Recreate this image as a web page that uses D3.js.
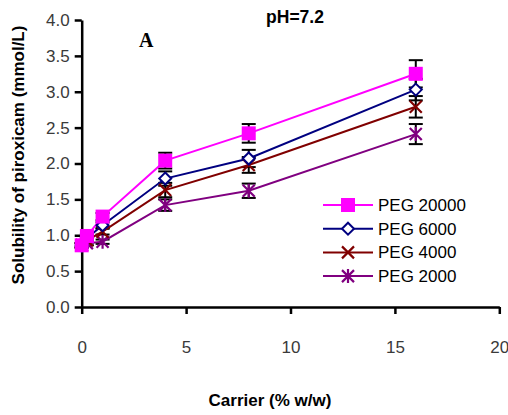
<!DOCTYPE html>
<html>
<head>
<meta charset="utf-8">
<script src="https://cdn.jsdelivr.net/npm/d3@7"></script>
<style>
  body { margin: 0; background: #fff; }
  svg { display: block; }
  .tick text { font-family: "Liberation Sans Narrow", "Arial Narrow", Arial, sans-serif; font-size: 17px; fill: #3a3a3a; }
</style>
</head>
<body>
<svg id="chart"></svg>
<script>
const carrier = [0, 0.25, 1, 4, 8, 16];
const seriesNames = ["PEG 20000", "PEG 6000", "PEG 4000", "PEG 2000"];
const peg20000 = [0.86, 0.99, 1.26, 2.04, 2.42, 3.25];
const peg6000 = [0.86, 0.96, 1.14, 1.79, 2.07, 3.03];
const peg4000 = [0.86, 0.93, 1.05, 1.63, 1.98, 2.79];
const peg2000 = [0.86, 0.89, 0.91, 1.42, 1.62, 2.41];
const err20000 = [0.03, 0.03, 0.05, 0.11, 0.13, 0.19];
const err6000 = [0.03, 0.03, 0.04, 0.10, 0.12, 0.15];
const err4000 = [0.03, 0.03, 0.04, 0.10, 0.11, 0.15];
const err2000 = [0.03, 0.03, 0.03, 0.08, 0.10, 0.14];
const xTicks = [0, 5, 10, 15, 20];
const yTicks = [0, 0.5, 1, 1.5, 2, 2.5, 3, 3.5, 4];

const W = 508, H = 415;
const svg = d3.select("#chart").attr("width", W).attr("height", H);

const x = d3.scaleLinear().domain([0, 20]).range([81.7, 499.3]);
const y = d3.scaleLinear().domain([0, 4]).range([307, 20]);

const series = [
  { name: seriesNames[0], vals: peg20000, err: err20000, color: "#ff00ff", shape: "square" },
  { name: seriesNames[1], vals: peg6000, err: err6000, color: "#000080", shape: "diamond" },
  { name: seriesNames[2], vals: peg4000, err: err4000, color: "#800000", shape: "x" },
  { name: seriesNames[3], vals: peg2000, err: err2000, color: "#800080", shape: "star" }
];

// ---------- axes
const xAxis = svg.append("g")
  .attr("transform", `translate(0,${y(0)})`)
  .call(d3.axisBottom(x).tickValues(xTicks).tickFormat(d3.format("d")).tickSize(7).tickSizeOuter(0).tickPadding(27));
const yAxis = svg.append("g")
  .attr("transform", `translate(${x(0)},0)`)
  .call(d3.axisLeft(y).tickValues(yTicks).tickFormat(d3.format(".1f")).tickSize(7).tickSizeOuter(0).tickPadding(5));
[xAxis, yAxis].forEach(a => {
  a.select(".domain").attr("stroke", "#000").attr("stroke-width", 2.5);
  a.selectAll(".tick line").attr("stroke", "#000").attr("stroke-width", 2.5);
});

// ---------- markers
function drawMarker(g, shape, color, cx, cy) {
  if (shape === "square") {
    g.append("rect").attr("x", cx - 7).attr("y", cy - 7).attr("width", 14).attr("height", 14).attr("fill", color);
  } else if (shape === "diamond") {
    g.append("path").attr("d", `M${cx},${cy - 6}L${cx + 6},${cy}L${cx},${cy + 6}L${cx - 6},${cy}Z`)
      .attr("fill", "#fff").attr("stroke", color).attr("stroke-width", 2);
  } else if (shape === "x") {
    g.append("path").attr("d", `M${cx - 6},${cy - 6}L${cx + 6},${cy + 6}M${cx - 6},${cy + 6}L${cx + 6},${cy - 6}`)
      .attr("stroke", color).attr("stroke-width", 2.2);
  } else {
    g.append("path").attr("d", `M${cx - 6},${cy - 6}L${cx + 6},${cy + 6}M${cx - 6},${cy + 6}L${cx + 6},${cy - 6}M${cx},${cy - 7}L${cx},${cy + 7}`)
      .attr("stroke", color).attr("stroke-width", 2.2);
  }
}

const line = d3.line().x(d => x(d[0])).y(d => y(d[1]));

// error bars
const eb = svg.append("g").attr("stroke", "#000").attr("stroke-width", 2);
series.forEach(s => {
  carrier.forEach((c, i) => {
    const cx = x(c), hi = y(s.vals[i] + s.err[i]), lo = y(s.vals[i] - s.err[i]);
    eb.append("line").attr("x1", cx).attr("x2", cx).attr("y1", hi).attr("y2", lo);
    eb.append("line").attr("x1", cx - 7).attr("x2", cx + 7).attr("y1", hi).attr("y2", hi);
    eb.append("line").attr("x1", cx - 7).attr("x2", cx + 7).attr("y1", lo).attr("y2", lo);
  });
});

series.slice().reverse().forEach(s => {
  svg.append("path")
    .datum(carrier.map((c, i) => [c, s.vals[i]]))
    .attr("d", line).attr("fill", "none").attr("stroke", s.color).attr("stroke-width", 2);
});
series.slice().reverse().forEach(s => {
  const g = svg.append("g");
  carrier.forEach((c, i) => drawMarker(g, s.shape, s.color, x(c), y(s.vals[i])));
});

// ---------- legend
const leg = svg.append("g").attr("transform", "translate(323,205)");
series.forEach((s, i) => {
  const row = leg.append("g").attr("transform", `translate(0,${i * 23.7})`);
  row.append("line").attr("x1", 0).attr("x2", 50).attr("stroke", s.color).attr("stroke-width", 2);
  drawMarker(row, s.shape, s.color, 25, 0);
  row.append("text").attr("x", 55).attr("y", 6)
    .attr("font-family", "Liberation Sans, Arial, sans-serif").attr("font-size", 17)
    .attr("fill", "#000").text(s.name);
});

// ---------- titles
svg.append("text").attr("x", 270).attr("y", 406).attr("text-anchor", "middle")
  .attr("font-family", "Liberation Sans, Arial, sans-serif").attr("font-weight", "bold").attr("font-size", 17)
  .text("Carrier (% w/w)");
svg.append("text").attr("transform", "translate(24,155) rotate(-90)").attr("text-anchor", "middle")
  .attr("font-family", "Liberation Sans, Arial, sans-serif").attr("font-weight", "bold").attr("font-size", 17)
  .text("Solubility of piroxicam (mmol/L)");
svg.append("text").attr("x", 295).attr("y", 23).attr("text-anchor", "middle")
  .attr("font-family", "Liberation Sans, Arial, sans-serif").attr("font-weight", "bold").attr("font-size", 17.5)
  .text("pH=7.2");
svg.append("text").attr("x", 139).attr("y", 47)
  .attr("font-family", "Liberation Serif, Times New Roman, serif").attr("font-weight", "bold").attr("font-size", 20)
  .text("A");
</script>
</body>
</html>
